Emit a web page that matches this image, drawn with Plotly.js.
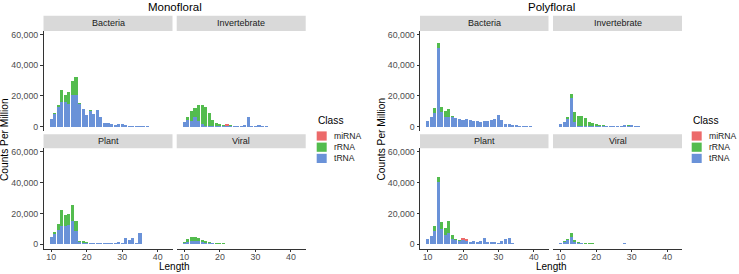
<!DOCTYPE html>
<html><head><meta charset="utf-8">
<script src="https://cdn.plot.ly/plotly-3.0.1.min.js"></script>
<style>html,body{margin:0;padding:0;background:#fff}#chart{width:739px;height:274px}</style>
</head><body><div id="chart"></div>
<script>
// ---------------- DATA ----------------
const lengths = [10,11,12,13,14,15,16,17,18,19,20,21,22,23,24,25,26,27,28,29,30,31,32,33,34,35,36,37,38,39,40];
const classes = ['miRNA','rRNA','tRNA'];
const groups = ['Monofloral','Polyfloral'];
const facets = ['Bacteria','Invertebrate','Plant','Viral'];
const yTickVals = [0,20000,40000,60000];
const xTickVals = [10,20,30,40];

// Monofloral
const monoBacteria_tRNA = [5000,8500,13000,16000,16000,15000,20500,20500,15000,11500,7500,10500,8000,11000,6000,2500,2500,1500,1000,1500,1800,900,500,400,300,250,200,150,100,60,30];
const monoBacteria_rRNA = [0,500,1000,7700,4700,7600,9500,12100,300,200,100,100,50,50,0,0,0,0,0,0,0,0,0,0,0,0,0,0,0,0,0];
const monoBacteria_miRNA = [0,0,0,0,0,0,0,0,0,0,0,0,0,0,0,0,0,0,0,0,0,0,0,0,0,0,0,0,0,0,0];

const monoInvertebrate_tRNA = [3200,4500,4000,6000,4000,1500,600,600,300,300,200,200,200,200,150,150,150,1000,6000,200,200,900,300,200,100,100,50,50,30,20,10];
const monoInvertebrate_rRNA = [0,2000,6100,6500,9900,12400,12000,8000,4000,2300,1800,1200,400,600,250,150,150,0,0,0,0,0,0,0,0,0,0,0,0,0,0];
const monoInvertebrate_miRNA = [0,0,0,0,0,0,0,0,0,0,0,0,1000,300,0,0,0,0,0,0,0,0,0,0,0,0,0,0,0,0,0];

const monoPlant_tRNA = [4600,6500,9400,11500,11500,12600,14800,8300,1200,1000,800,600,600,500,500,700,900,1000,800,1400,900,3800,2900,3800,600,7300,300,200,150,100,80];
const monoPlant_rRNA = [0,1100,3600,10500,7200,7200,10900,6500,1200,1000,700,400,300,200,100,100,100,100,100,100,100,0,0,0,0,0,0,0,0,0,0];
const monoPlant_miRNA = [0,0,0,0,0,0,0,0,0,0,0,0,0,0,0,0,0,0,0,0,0,0,0,0,0,0,0,0,0,0,0];

const monoViral_tRNA = [1000,1600,2000,2200,1800,1300,1000,700,500,400,300,300,250,250,200,200,200,150,150,150,150,100,100,50,50,30,20,10,10,0,0];
const monoViral_rRNA = [700,1600,2500,2700,2100,1500,1150,800,600,460,300,200,150,100,100,50,50,50,50,0,0,0,0,0,0,0,0,0,0,0,0];
const monoViral_miRNA = [0,0,0,0,0,0,0,0,0,0,0,0,0,0,0,0,0,0,0,0,0,0,0,0,0,0,0,0,0,0,0];

// Polyfloral
const polyBacteria_tRNA = [3900,6000,9000,51000,9500,6500,6500,6000,5600,5200,4300,4700,4300,3700,3500,3000,3700,3900,4300,4700,7300,4300,1700,1500,1200,1000,700,500,300,200,100];
const polyBacteria_rRNA = [0,0,2900,3800,3500,3900,4700,1000,0,0,0,0,0,0,0,0,0,0,0,0,0,0,0,0,0,0,0,0,0,0,0];
const polyBacteria_miRNA = [0,0,0,0,0,0,0,0,0,0,0,0,0,0,0,0,0,0,0,0,0,0,0,0,0,0,0,0,0,0,0];

const polyInvertebrate_tRNA = [1700,3200,5000,19000,3000,500,400,300,300,200,200,200,200,200,200,200,300,300,800,500,1300,200,200,100,100,100,50,50,30,20,10];
const polyInvertebrate_rRNA = [0,0,1500,2000,6700,6400,6500,5100,2900,2000,1300,800,600,500,400,300,0,300,0,300,100,0,0,0,0,0,0,0,0,0,0];
const polyInvertebrate_miRNA = [0,0,0,0,0,0,0,0,0,0,0,0,0,0,0,0,0,0,0,0,0,0,0,0,0,0,0,0,0,0,0];

const polyPlant_tRNA = [3500,5000,8500,40500,10000,6000,7000,3500,2500,2200,2500,2200,1400,2100,1400,2300,4000,1400,1400,1600,1000,2100,3600,4000,500,400,300,200,150,100,80];
const polyPlant_rRNA = [0,0,3000,3300,4600,4500,8200,2400,1200,600,500,0,100,100,100,100,100,100,100,100,100,100,100,100,0,0,0,0,0,0,0];
const polyPlant_miRNA = [0,0,0,0,0,0,0,0,0,0,1100,1000,0,0,0,0,0,0,0,0,0,0,0,0,0,0,0,0,0,0,0];

const polyViral_tRNA = [600,1300,2500,4500,1500,900,600,400,350,300,250,200,200,200,200,200,250,300,900,300,200,150,150,150,100,100,100,100,80,50,30];
const polyViral_rRNA = [200,500,1000,2500,1000,600,400,300,250,200,150,100,100,100,100,50,50,50,100,50,0,0,0,0,0,0,0,0,0,0,0];
const polyViral_miRNA = [0,0,0,0,0,0,0,0,0,0,0,0,0,0,0,0,0,0,0,0,0,0,0,0,0,0,0,0,0,0,0];

// ---------------- STYLE / LAYOUT ----------------
const classColors = {miRNA:'#EC6A6A', rRNA:'#53BC4E', tRNA:'#6A92D8'};
const seriesData = {
  Monofloral: {
    Bacteria: {tRNA: monoBacteria_tRNA, rRNA: monoBacteria_rRNA, miRNA: monoBacteria_miRNA},
    Invertebrate: {tRNA: monoInvertebrate_tRNA, rRNA: monoInvertebrate_rRNA, miRNA: monoInvertebrate_miRNA},
    Plant: {tRNA: monoPlant_tRNA, rRNA: monoPlant_rRNA, miRNA: monoPlant_miRNA},
    Viral: {tRNA: monoViral_tRNA, rRNA: monoViral_rRNA, miRNA: monoViral_miRNA}
  },
  Polyfloral: {
    Bacteria: {tRNA: polyBacteria_tRNA, rRNA: polyBacteria_rRNA, miRNA: polyBacteria_miRNA},
    Invertebrate: {tRNA: polyInvertebrate_tRNA, rRNA: polyInvertebrate_rRNA, miRNA: polyInvertebrate_miRNA},
    Plant: {tRNA: polyPlant_tRNA, rRNA: polyPlant_rRNA, miRNA: polyPlant_miRNA},
    Viral: {tRNA: polyViral_tRNA, rRNA: polyViral_rRNA, miRNA: polyViral_miRNA}
  }
};

const W = 739, H = 274;
const PX = p => p / W;
const PY = p => 1 - p / H;
const FONT = 'Liberation Sans, Arial, Helvetica, sans-serif';

const colX = [[[43.5,172.5],[176.7,305.7]], [[420,548.5],[553,682]]];
const rowY = [[31,131],[148.3,248.5]];
const stripY = [[15.7,31],[134.3,148.3]];
const titleX = [174.6, 551];
const yTitleX = [4.5, 381];
const legendX = [316.7, 691.7];

const traces = [];
const layout = {
  width: W, height: H, autosize: false,
  margin: {l:0, r:0, t:0, b:0},
  paper_bgcolor: '#fff', plot_bgcolor: 'rgba(0,0,0,0)',
  barmode: 'stack', bargap: 0, showlegend: false,
  font: {family: FONT, color: '#1A1A1A'},
  shapes: [], annotations: []
};

groups.forEach((g, gi) => {
  facets.forEach((f, fi) => {
    const k = gi * 4 + fi + 1;
    const row = fi >> 1, col = fi & 1;
    const xa = 'x' + (k === 1 ? '' : k), ya = 'y' + (k === 1 ? '' : k);
    ['tRNA','rRNA','miRNA'].forEach(c => {
      traces.push({
        type: 'bar', x: lengths, y: seriesData[g][f][c], name: c,
        xaxis: xa, yaxis: ya, width: 0.86,
        marker: {color: classColors[c], line: {width: 0}},
        hoverinfo: 'skip'
      });
    });
    const [x0, x1] = colX[gi][col];
    const [y0, y1] = rowY[row];
    const bottom = row === 1, left = col === 0;
    layout['xaxis' + (k === 1 ? '' : k)] = {
      domain: [PX(x0), PX(x1)], anchor: ya, range: [7.85, 44.15],
      showgrid: false, zeroline: false, fixedrange: true,
      showline: bottom, linecolor: '#333', linewidth: 1,
      ticks: bottom ? 'outside' : '', ticklen: 2.5, tickwidth: 1, tickcolor: '#333',
      ticklabelstandoff: -3,
      tickvals: xTickVals, showticklabels: bottom,
      tickfont: {family: FONT, size: 8.8, color: '#4D4D4D'}
    };
    layout['yaxis' + (k === 1 ? '' : k)] = {
      domain: [PY(y1), PY(y0)], anchor: xa, range: [-2800, 62300],
      showgrid: false, zeroline: false, fixedrange: true,
      showline: left, linecolor: '#333', linewidth: 1,
      ticks: left ? 'outside' : '', ticklen: 2.5, tickwidth: 1, tickcolor: '#333',
      tickvals: yTickVals, tickformat: ',d', showticklabels: left,
      tickfont: {family: FONT, size: 8.8, color: '#4D4D4D'}
    };
    // strip
    const [s0, s1] = stripY[row];
    layout.shapes.push({type: 'rect', xref: 'paper', yref: 'paper',
      x0: PX(x0), x1: PX(x1), y0: PY(s1), y1: PY(s0),
      fillcolor: '#D9D9D9', line: {width: 0}, layer: 'below'});
    layout.annotations.push({xref: 'paper', yref: 'paper', x: PX((x0 + x1) / 2), y: PY((s0 + s1) / 2),
      text: f, showarrow: false, xanchor: 'center', yanchor: 'middle',
      font: {family: FONT, size: 9, color: '#1A1A1A'}});
  });
  // group title
  layout.annotations.push({xref: 'paper', yref: 'paper', x: PX(titleX[gi]), y: PY(7.5),
    text: g, showarrow: false, xanchor: 'center', yanchor: 'middle',
    font: {family: FONT, size: 11.5, color: '#000'}});
  // y title
  layout.annotations.push({xref: 'paper', yref: 'paper', x: PX(yTitleX[gi]), y: PY(139.5),
    text: 'Counts Per Million', showarrow: false, textangle: -90, xanchor: 'center', yanchor: 'middle',
    font: {family: FONT, size: 10.2, color: '#000'}});
  // x title
  layout.annotations.push({xref: 'paper', yref: 'paper', x: PX(titleX[gi]), y: 0,
    text: 'Length', showarrow: false, xanchor: 'center', yanchor: 'bottom', borderpad: 0, yshift: 1,
    font: {family: FONT, size: 10, color: '#000'}});
  // legend
  const lx = legendX[gi];
  layout.annotations.push({xref: 'paper', yref: 'paper', x: PX(lx - 1), y: PY(120.5),
    text: 'Class', showarrow: false, xanchor: 'left', yanchor: 'middle',
    font: {family: FONT, size: 10.2, color: '#000'}});
  classes.forEach((c, ci) => {
    const cy = 136 + ci * 11.2;
    layout.shapes.push({type: 'rect', xref: 'paper', yref: 'paper',
      x0: PX(lx), x1: PX(lx + 10), y0: PY(cy + 4.6), y1: PY(cy - 4.6),
      fillcolor: classColors[c], line: {width: 0}});
    layout.annotations.push({xref: 'paper', yref: 'paper', x: PX(lx + 15), y: PY(cy),
      text: c, showarrow: false, xanchor: 'left', yanchor: 'middle',
      font: {family: FONT, size: 8.6, color: '#1A1A1A'}});
  });
});

Plotly.newPlot('chart', traces, layout, {staticPlot: true, displayModeBar: false});
</script>
</body></html>
